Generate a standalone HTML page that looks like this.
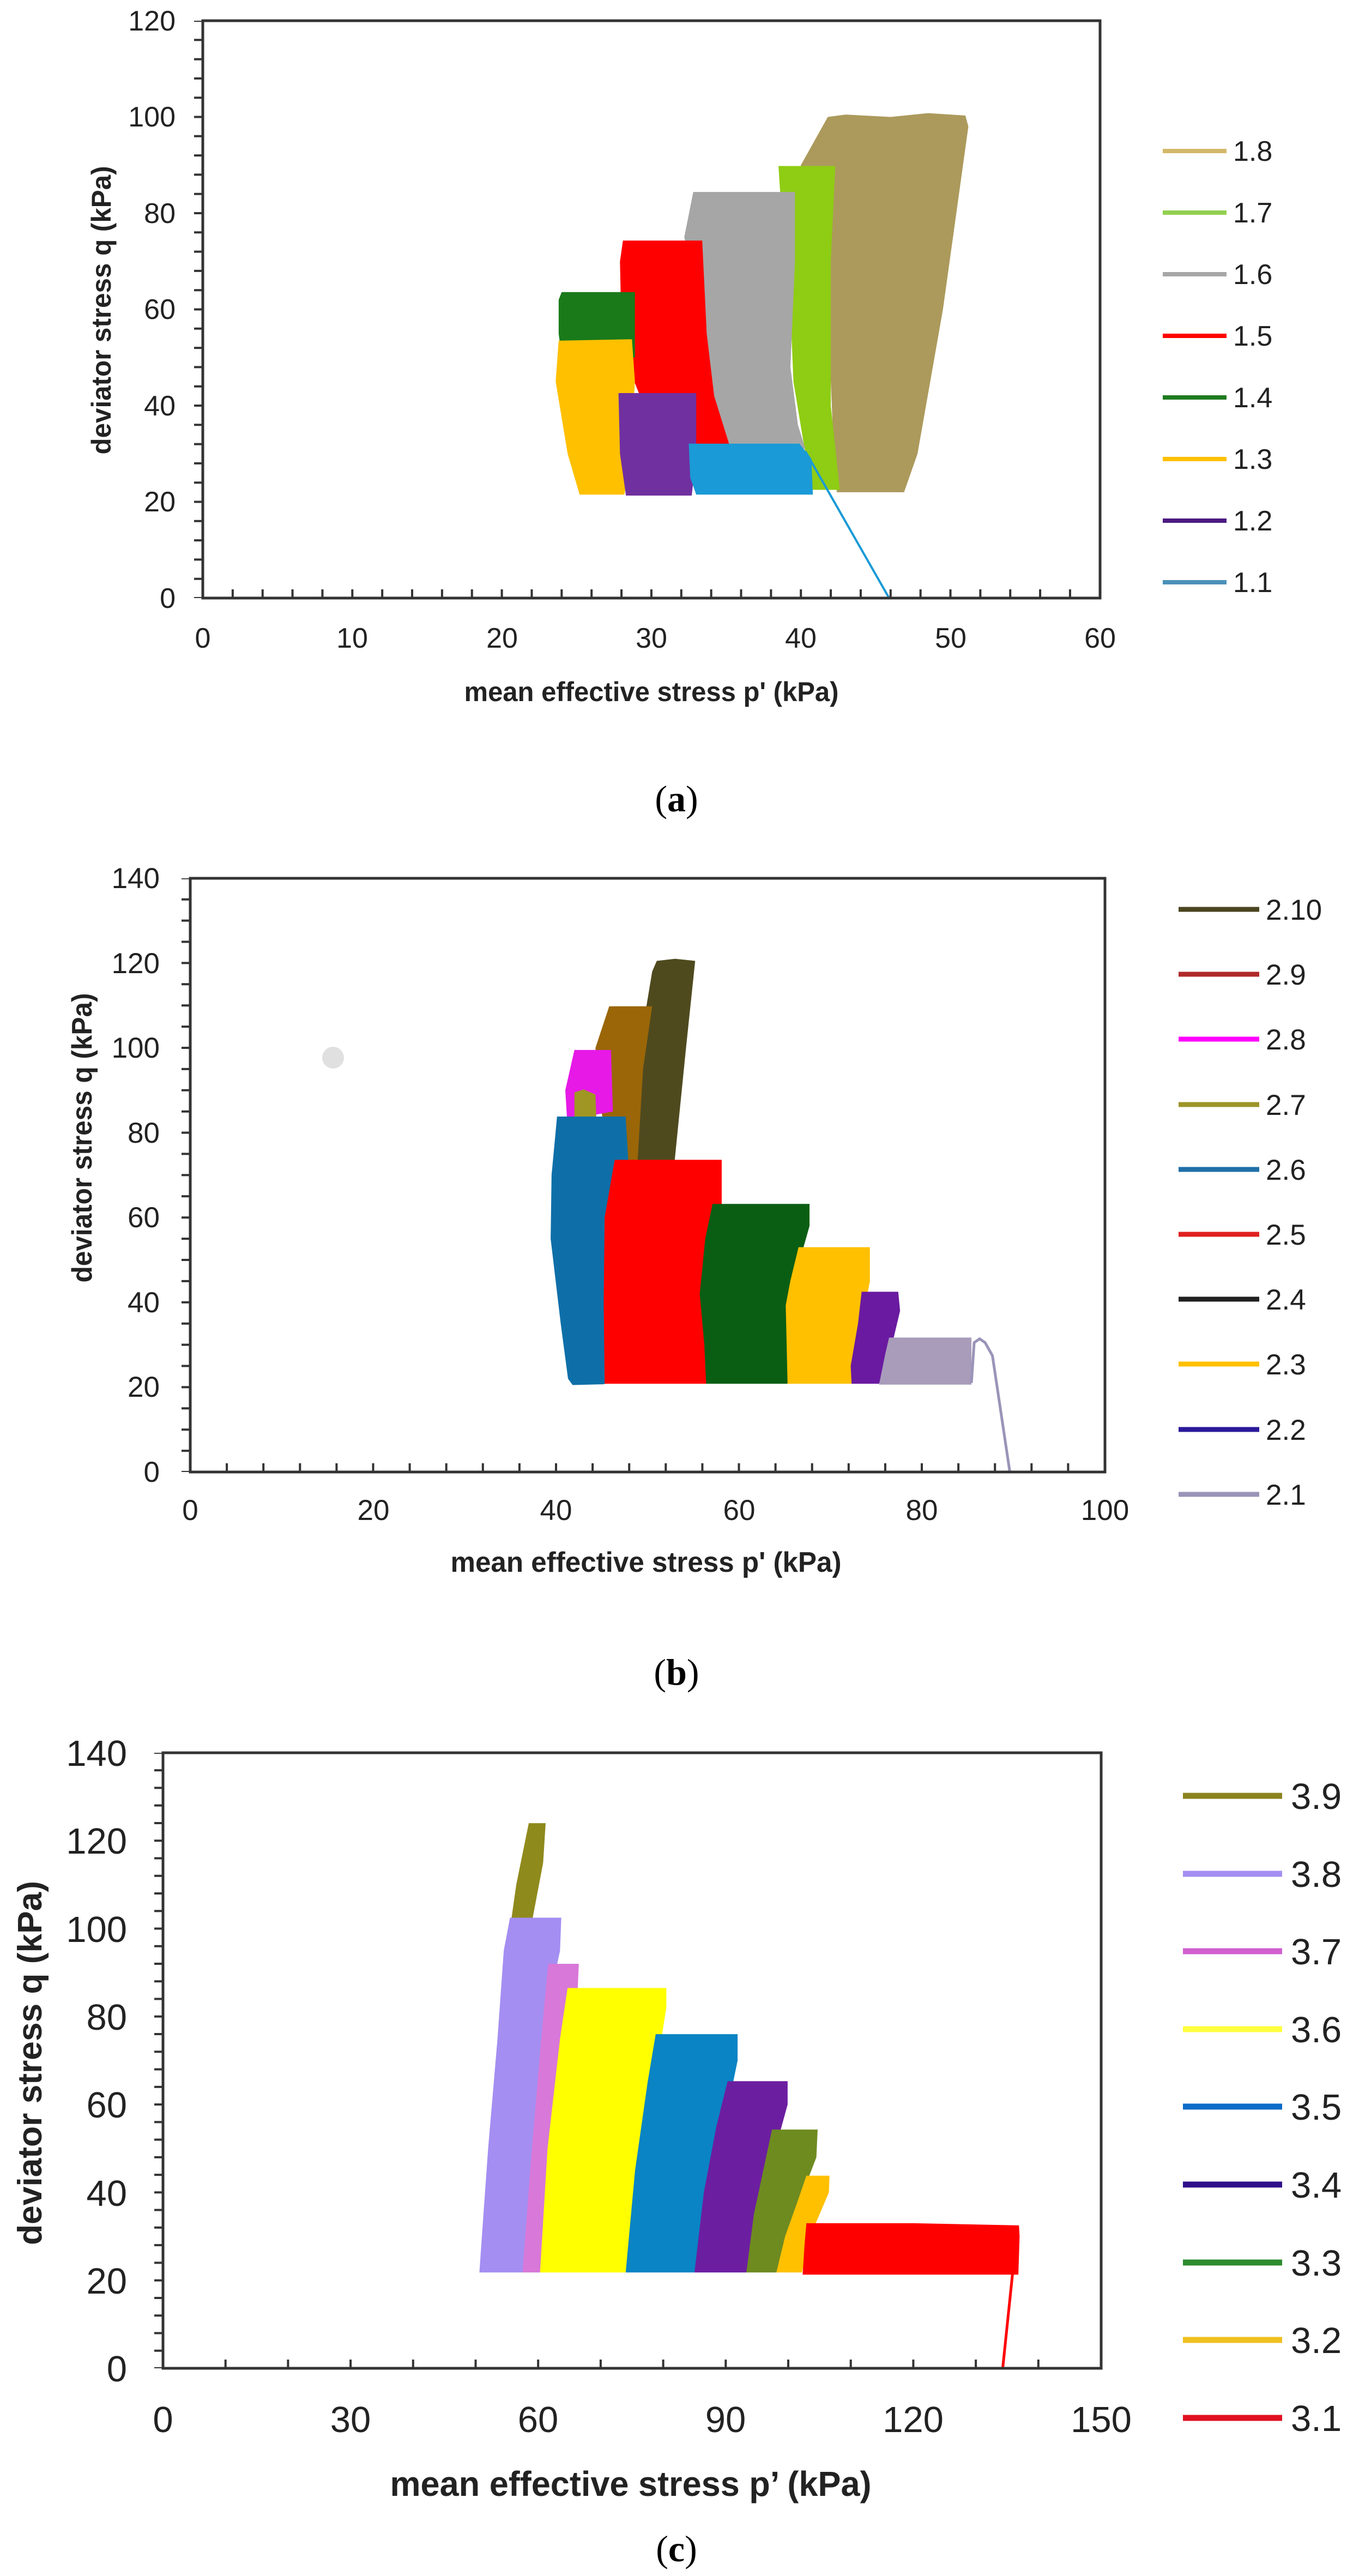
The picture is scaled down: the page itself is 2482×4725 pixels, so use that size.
<!DOCTYPE html>
<html><head><meta charset="utf-8">
<style>
html,body{margin:0;padding:0;background:#fff;}
svg{display:block;}
.tk{font-family:"Liberation Sans Narrow","Liberation Sans",sans-serif;fill:#222;}
.tt{font-family:"Liberation Sans",sans-serif;font-weight:bold;fill:#222;}
.cap{font-family:"Liberation Serif",serif;fill:#000;}
</style></head>
<body>
<svg width="2482" height="4725" viewBox="0 0 2482 4725" xmlns="http://www.w3.org/2000/svg">
<rect width="2482" height="4725" fill="#fff"/>

<!-- ================= PANEL A ================= -->
<g transform="translate(372 1097) scale(27.43 -8.825)">
<polygon fill="#ac9a5c" points="42.4,22 46.9,22 47.8,30 49.5,60 51.2,98 51,100.3 48.5,100.8 46,100 43,100.5 41.8,100 40,90 39.5,80 41.8,60 42.2,30"/>
<polygon fill="#8fcc14" points="38.5,89.8 42.3,89.8 42.0,70 42.0,40 42.6,22.5 40.6,22.5 40.3,30 39.5,45 39.3,60 38.6,85"/>
<polygon fill="#a6a6a6" points="32.8,84.4 39.6,84.4 39.6,70 39.3,48 39.8,36 40.3,31 35.2,31 34.4,36 33.8,45 33.4,60 32.2,75"/>
<polygon fill="#ff0000" points="28.1,74.3 33.4,74.3 33.7,55 34.2,42 35.3,31 32,31 29.5,40 28.6,47 28,55 27.9,70"/>
<polygon fill="#1a7a1a" points="24.0,63.6 28.9,63.6 28.9,50 24,50 23.8,55 23.8,62"/>
<polygon fill="#ffc000" points="23.8,53.5 28.7,53.8 28.9,45 28.6,30 28.2,21.5 25.2,21.5 24.4,30 23.6,45"/>
<polygon fill="#7030a0" points="27.8,42.6 33.0,42.6 33.0,30 32.7,21.3 28.3,21.3 27.9,30"/>
<polygon fill="#1a9ad6" points="32.5,32.1 39.9,32.1 40.7,29 40.8,21.5 33.0,21.5 32.6,25"/>
<polyline fill="none" stroke="#1a9ad6" stroke-width="4" vector-effect="non-scaling-stroke" points="40.3,30.5 45.9,0"/>
</g>
<rect x="372" y="38" width="1646" height="1059" fill="none" stroke="#333" stroke-width="5"/>
<line x1="364" y1="1097" x2="364" y2="38" stroke="#333" stroke-width="16" stroke-dasharray="4 31.3" stroke-dashoffset="2"/>
<line x1="372" y1="1089" x2="2018" y2="1089" stroke="#333" stroke-width="16" stroke-dasharray="4 50.86" stroke-dashoffset="2"/>
<g class="tk" font-size="52" text-anchor="end">
<text x="322" y="1115">0</text><text x="322" y="938">20</text><text x="322" y="762">40</text>
<text x="322" y="585">60</text><text x="322" y="409">80</text><text x="322" y="232">100</text><text x="322" y="56">120</text>
</g>
<g class="tk" font-size="52" text-anchor="middle">
<text x="372" y="1188">0</text><text x="646" y="1188">10</text><text x="921" y="1188">20</text>
<text x="1195" y="1188">30</text><text x="1469" y="1188">40</text><text x="1744" y="1188">50</text><text x="2018" y="1188">60</text>
</g>
<text class="tt" x="1195" y="1286" font-size="50" text-anchor="middle" textLength="687" lengthAdjust="spacingAndGlyphs">mean effective stress p' (kPa)</text>
<text class="tt" transform="translate(203 569) rotate(-90)" font-size="50" text-anchor="middle" textLength="529" lengthAdjust="spacingAndGlyphs">deviator stress q (kPa)</text>
<g stroke-width="8">
<line x1="2133" y1="277" x2="2250" y2="277" stroke="#d4b86a"/>
<line x1="2133" y1="390" x2="2250" y2="390" stroke="#92d050"/>
<line x1="2133" y1="503" x2="2250" y2="503" stroke="#a6a6a6"/>
<line x1="2133" y1="616" x2="2250" y2="616" stroke="#ff0000"/>
<line x1="2133" y1="729" x2="2250" y2="729" stroke="#1e7b1e"/>
<line x1="2133" y1="842" x2="2250" y2="842" stroke="#ffc000"/>
<line x1="2133" y1="955" x2="2250" y2="955" stroke="#4b1a80"/>
<line x1="2133" y1="1068" x2="2250" y2="1068" stroke="#4a90b8"/>
</g>
<g class="tk" font-size="52">
<text x="2262" y="295">1.8</text><text x="2262" y="408">1.7</text><text x="2262" y="521">1.6</text><text x="2262" y="634">1.5</text>
<text x="2262" y="747">1.4</text><text x="2262" y="860">1.3</text><text x="2262" y="973">1.2</text><text x="2262" y="1086">1.1</text>
</g>
<text class="cap" x="1241" y="1488" font-size="68" text-anchor="middle">(<tspan font-weight="bold">a</tspan>)</text>

<!-- ================= PANEL B ================= -->
<circle cx="611" cy="1940" r="20" fill="#ccc" opacity="0.6"/>
<g transform="translate(349 2700) scale(16.78 -7.78)">
<polygon fill="#4f4a1e" points="48.6,70 52.8,70 54.2,100 55.2,120.5 53,121 51,120.5 50.5,118 49.5,105"/>
<polygon fill="#9a6608" points="45.8,109.8 50.5,109.8 49.5,95 48.9,73 46,73 44.5,90 44.3,100"/>
<polygon fill="#e619e6" points="42.0,99.5 46.0,99.5 46.2,85 41.2,83 41.0,90"/>
<polygon fill="#a09624" points="42.0,89.5 43,90.2 44.3,89 44.4,83 42,83"/>
<polygon fill="#0e6fa8" points="40.1,83.8 47.6,83.8 47.9,73 46,50 45.3,20.7 41.8,20.5 41.3,22 40.5,35 39.4,55 39.5,70"/>
<polygon fill="#ff0000" points="46.4,73.6 58.1,73.6 58.1,63 56.8,50 56.4,20.8 45.3,20.8 45.2,40 45.3,60"/>
<polygon fill="#0a5e14" points="57.1,63.2 67.7,63.2 67.7,58 66,45 65.3,20.8 56.4,20.8 56.2,30 55.7,42 56.3,55"/>
<polygon fill="#ffc000" points="66.5,53 74.3,53 74.3,45 73,30 72.5,20.8 65.3,20.8 65.1,39.3 65.6,45"/>
<polygon fill="#6a1aa0" points="73.4,42.5 77.4,42.5 77.6,38 76.5,28 75.3,20.8 72.3,20.8 72.2,25 73,35"/>
<polygon fill="#a89cba" points="76.4,31.7 85.4,31.7 85.4,20.6 75.3,20.6 76,28"/>
<polyline fill="none" stroke="#9a94b8" stroke-width="5" vector-effect="non-scaling-stroke" points="85.4,21 85.7,30.5 86.3,31.4 86.9,30.5 87.7,27.4 89.6,0"/>
</g>
<rect x="349" y="1611" width="1678" height="1089" fill="none" stroke="#333" stroke-width="5"/>
<line x1="341" y1="2700" x2="341" y2="1611" stroke="#333" stroke-width="16" stroke-dasharray="4 34.9" stroke-dashoffset="2"/>
<line x1="349" y1="2692" x2="2027" y2="2692" stroke="#333" stroke-width="16" stroke-dasharray="4 63.1" stroke-dashoffset="2"/>
<g class="tk" font-size="53" text-anchor="end">
<text x="293" y="2718">0</text><text x="293" y="2562">20</text><text x="293" y="2407">40</text><text x="293" y="2251">60</text>
<text x="293" y="2096">80</text><text x="293" y="1940">100</text><text x="293" y="1785">120</text><text x="293" y="1629">140</text>
</g>
<g class="tk" font-size="53" text-anchor="middle">
<text x="349" y="2788">0</text><text x="685" y="2788">20</text><text x="1020" y="2788">40</text>
<text x="1356" y="2788">60</text><text x="1691" y="2788">80</text><text x="2027" y="2788">100</text>
</g>
<text class="tt" x="1185" y="2883" font-size="52" text-anchor="middle" textLength="717" lengthAdjust="spacingAndGlyphs">mean effective stress p' (kPa)</text>
<text class="tt" transform="translate(168 2087) rotate(-90)" font-size="52" text-anchor="middle" textLength="531" lengthAdjust="spacingAndGlyphs">deviator stress q (kPa)</text>
<g stroke-width="9">
<line x1="2162" y1="1668" x2="2310" y2="1668" stroke="#4a4520"/>
<line x1="2162" y1="1787" x2="2310" y2="1787" stroke="#b02a2a"/>
<line x1="2162" y1="1906" x2="2310" y2="1906" stroke="#ff00ff"/>
<line x1="2162" y1="2026" x2="2310" y2="2026" stroke="#9c9428"/>
<line x1="2162" y1="2145" x2="2310" y2="2145" stroke="#1f6fa8"/>
<line x1="2162" y1="2264" x2="2310" y2="2264" stroke="#e02020"/>
<line x1="2162" y1="2383" x2="2310" y2="2383" stroke="#202020"/>
<line x1="2162" y1="2502" x2="2310" y2="2502" stroke="#ffc000"/>
<line x1="2162" y1="2622" x2="2310" y2="2622" stroke="#2a1a9a"/>
<line x1="2162" y1="2741" x2="2310" y2="2741" stroke="#9a94b8"/>
</g>
<g class="tk" font-size="53">
<text x="2322" y="1687">2.10</text><text x="2322" y="1806">2.9</text><text x="2322" y="1925">2.8</text><text x="2322" y="2045">2.7</text>
<text x="2322" y="2164">2.6</text><text x="2322" y="2283">2.5</text><text x="2322" y="2402">2.4</text><text x="2322" y="2521">2.3</text>
<text x="2322" y="2641">2.2</text><text x="2322" y="2760">2.1</text>
</g>
<text class="cap" x="1241" y="3090" font-size="68" text-anchor="middle">(<tspan font-weight="bold">b</tspan>)</text>

<!-- ================= PANEL C ================= -->
<g transform="translate(299 4344) scale(11.47 -8.064)">
<polygon fill="#8f8a1c" points="58.5,124 61.2,124 60.8,115 58.8,100 55.5,100 56.5,110"/>
<polygon fill="#a48ef2" points="55.5,102.5 63.7,102.5 63.5,95 62,85 57.5,21.8 50.6,21.8 51,30 52,50 53.5,75 54.5,95"/>
<polygon fill="#d878d8" points="61.6,92 66.5,92 66.3,85 63.5,60 60.3,21.8 57.5,21.8 59,50 60.5,75"/>
<polygon fill="#ffff00" points="64.7,86.5 80.5,86.5 80.5,82 78,60 74,21.8 60.3,21.8 61.5,50 63.5,75"/>
<polygon fill="#0a84c4" points="78.8,76 91.9,76 91.9,70 89,50 85,21.8 74,21.8 75.5,45 77.5,65"/>
<polygon fill="#6c1ea0" points="90.3,65.3 99.9,65.3 99.9,60 97,45 93.3,21.8 85,21.8 86.5,40 88.5,55"/>
<polygon fill="#6e8b20" points="97.4,54.3 104.7,54.3 104.5,48 101,35 98.1,21.8 93.3,21.8 94.5,35 96,45"/>
<polygon fill="#ffc000" points="102.9,43.8 106.6,43.8 106.5,40 103.5,30 102.2,21.8 98.1,21.8 99.5,30 101.5,38"/>
<polygon fill="#ff0000" points="102.9,33 120,33 136.9,32.5 137,30 136.8,21.3 102.3,21.3 102.6,28"/>
<polyline fill="none" stroke="#ff0000" stroke-width="5" vector-effect="non-scaling-stroke" points="136.6,31.5 134.3,0"/>
</g>
<rect x="299" y="3215" width="1721" height="1129" fill="none" stroke="#333" stroke-width="5"/>
<line x1="291" y1="4344" x2="291" y2="3215" stroke="#333" stroke-width="16" stroke-dasharray="4 28.26" stroke-dashoffset="2"/>
<line x1="299" y1="4336" x2="2020" y2="4336" stroke="#333" stroke-width="16" stroke-dasharray="4 110.7" stroke-dashoffset="2"/>
<g class="tk" font-size="67" text-anchor="end">
<text x="233" y="4368">0</text><text x="233" y="4207">20</text><text x="233" y="4046">40</text><text x="233" y="3884">60</text>
<text x="233" y="3723">80</text><text x="233" y="3562">100</text><text x="233" y="3400">120</text><text x="233" y="3239">140</text>
</g>
<g class="tk" font-size="67" text-anchor="middle">
<text x="299" y="4461">0</text><text x="643" y="4461">30</text><text x="987" y="4461">60</text>
<text x="1331" y="4461">90</text><text x="1675" y="4461">120</text><text x="2020" y="4461">150</text>
</g>
<text class="tt" x="1157" y="4578" font-size="64" text-anchor="middle" textLength="883" lengthAdjust="spacingAndGlyphs">mean effective stress p’ (kPa)</text>
<text class="tt" transform="translate(76 3784) rotate(-90)" font-size="62" text-anchor="middle" textLength="668" lengthAdjust="spacingAndGlyphs">deviator stress q (kPa)</text>
<g stroke-width="11">
<line x1="2170" y1="3294" x2="2352" y2="3294" stroke="#8b8420"/>
<line x1="2170" y1="3437" x2="2352" y2="3437" stroke="#a48ef2"/>
<line x1="2170" y1="3579" x2="2352" y2="3579" stroke="#d060d0"/>
<line x1="2170" y1="3722" x2="2352" y2="3722" stroke="#ffff40"/>
<line x1="2170" y1="3864" x2="2352" y2="3864" stroke="#0c6cc8"/>
<line x1="2170" y1="4007" x2="2352" y2="4007" stroke="#30108a"/>
<line x1="2170" y1="4150" x2="2352" y2="4150" stroke="#2e8b2e"/>
<line x1="2170" y1="4292" x2="2352" y2="4292" stroke="#f0c020"/>
<line x1="2170" y1="4435" x2="2352" y2="4435" stroke="#e01020"/>
</g>
<g class="tk" font-size="67">
<text x="2368" y="3318">3.9</text><text x="2368" y="3461">3.8</text><text x="2368" y="3603">3.7</text><text x="2368" y="3746">3.6</text>
<text x="2368" y="3888">3.5</text><text x="2368" y="4031">3.4</text><text x="2368" y="4174">3.3</text><text x="2368" y="4316">3.2</text>
<text x="2368" y="4459">3.1</text>
</g>
<text class="cap" x="1241" y="4698" font-size="68" text-anchor="middle">(<tspan font-weight="bold">c</tspan>)</text>
</svg>
</body></html>
